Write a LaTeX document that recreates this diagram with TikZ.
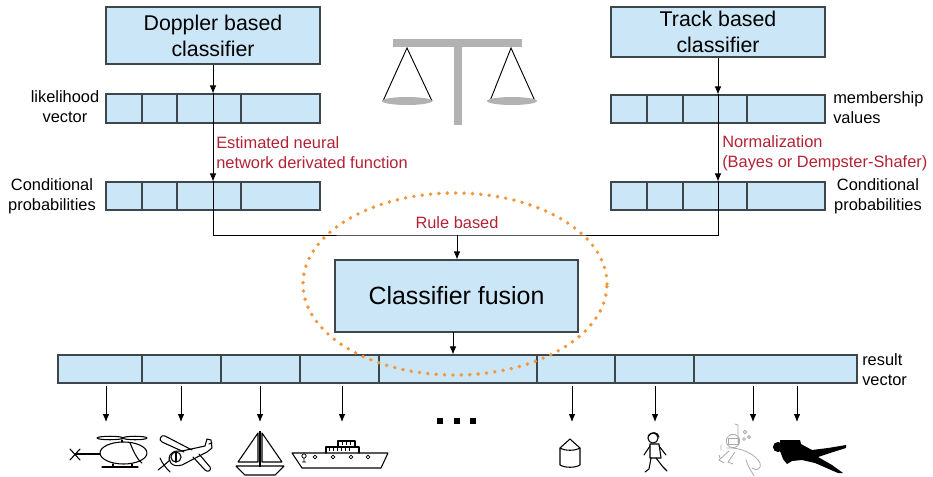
\documentclass[tikz,border=0pt]{standalone}
\usepackage{fontspec}
\setmainfont{Liberation Sans}
\usetikzlibrary{arrows.meta}

\definecolor{boxfill}{RGB}{203,231,247}
\definecolor{boxline}{RGB}{60,70,75}
\definecolor{rulered}{RGB}{178,34,52}
\definecolor{dotorange}{RGB}{245,150,60}
\definecolor{scalegray}{RGB}{178,178,178}
\definecolor{sketchgray}{RGB}{170,170,170}

\tikzset{
  clsbox/.style={draw=boxline, fill=boxfill, line width=0.8pt, align=center,
    inner sep=0pt, font=\fontsize{16}{19.5}\selectfont},
  vecbox/.style={draw=boxline, fill=boxfill, line width=0.8pt, inner sep=0pt},
  cellline/.style={draw=boxline, line width=0.8pt},
  lbl/.style={inner sep=0pt, align=center, font=\fontsize{12.3}{15}\selectfont},
  redlbl/.style={lbl, text=rulered},
  wire/.style={line width=0.7pt},
  arr/.style={-{Latex[length=6pt, width=5pt]}, line width=0.7pt},
  icon/.style={line width=0.8pt, line join=round, line cap=round},
}

\begin{document}
\begin{tikzpicture}[x=0.75pt,y=-0.75pt]
\useasboundingbox (0,0) rectangle (933,476);

% classifiers
\node[clsbox, minimum width=160.5pt, minimum height=42.75pt] (dop) at (213,35.5) {Doppler based\\classifier};
\node[clsbox, minimum width=160.5pt, minimum height=37.5pt] (trk) at (718,32) {Track based\\classifier};

% vectors
\node[vecbox, minimum width=160.5pt, minimum height=21.75pt] (lik) at (213,108.5) {};
\node[vecbox, minimum width=160.5pt, minimum height=21pt] (lcnd) at (213,196) {};
\node[vecbox, minimum width=160.5pt, minimum height=21pt] (mem) at (718,109) {};
\node[vecbox, minimum width=160.5pt, minimum height=21pt] (rcnd) at (718,196) {};

\foreach \r in {lik,lcnd} {
	\foreach \x in {142,177,241}
		\draw[cellline] (\r.north -| \x,0) -- (\r.south -| \x,0);
}
\foreach \r in {mem,rcnd} {
	\foreach \x in {647,683,747}
		\draw[cellline] (\r.north -| \x,0) -- (\r.south -| \x,0);
}

\node[lbl] (likl) at (65,107) {likelihood\\vector};
\node[lbl] (lcndl) at (52,196) {Conditional\\probabilities};
\node[lbl, anchor=west, align=left] (meml) at (833,108) {membership\\values};
\node[lbl] (rcndl) at (878,196) {Conditional\\probabilities};

\node[redlbl, anchor=west, align=left] (nnl) at (216,153) {Estimated neural\\network derivated function};
\node[redlbl, anchor=west, align=left] (norml) at (722,153) {Normalization\\(Bayes or Dempster-Shafer)};

\draw[arr] (dop) -- (lik.north);
\draw[arr] (lik.north) -- (lcnd.north);
\draw[arr] (trk) -- (mem.north);
\draw[arr] (mem.north) -- (rcnd.north);

% fusion
\coordinate (rule) at (457,235);
\draw[wire] (lcnd.north) |- (rule) -| (rcnd.north);
\node[redlbl] (rulel) at (457,223) {Rule based};

\node[clsbox, minimum width=182.25pt, minimum height=54pt, font=\fontsize{18.7}{22}\selectfont] (fus) at (456.5,296) {Classifier fusion};
\draw[arr] (rule) -- (rule |- fus.north);

\node[vecbox, minimum width=599.25pt, minimum height=21pt] (res) at (457.5,369) {};
\foreach \x in {142,221,300,379,537,615,694}
	\draw[cellline] (res.north -| \x,0) -- (res.south -| \x,0);
\node[lbl, anchor=west, align=left] (resl) at (862,370) {result\\vector};

\coordinate (fusout) at (453,332);
\draw[arr] (fusout) -- (fusout |- res.north);

\foreach \x [count=\i] in {106,181,260,342,572,655,753,797} {
	\coordinate (out\i) at (\x,386);
	\coordinate (obj\i) at (\x,422);
	\draw[arr] (out\i) -- (obj\i);
}

% ...
\foreach \x in {440,457,473}
	\fill ({\x-3},418) rectangle ({\x+3},424);

% balance
\fill[scalegray] (393,39) rectangle (522,47);
\fill[scalegray] (454,47) rectangle (462,125);
\draw[line width=0.7pt] (383,101) -- (407,48) -- (432,101);
\draw[line width=0.7pt] (490,101) -- (511,48) -- (535,101);
\fill[scalegray] (407,101) ellipse [x radius=18.75pt, y radius=3pt];
\fill[scalegray] (512,101) ellipse [x radius=18.75pt, y radius=3pt];

% helicopter
\draw[icon] (70,449) -- (80,460) (70,460) -- (80,449);
\draw[icon] (76,454) -- (100,454);
\draw[icon] (123.5,453) ellipse [x radius=17.6pt, y radius=8.25pt];
\draw[icon] (130,443) .. controls (134,452) and (136,458) .. (142,463);
\draw[icon] (110,438) ellipse [x radius=9.75pt, y radius=1.3pt];
\draw[icon] (135,438) ellipse [x radius=9pt, y radius=1.3pt];
\draw[icon] (122,440) -- (122,442);
\draw[icon] (102,467) -- (138,467) (113,464) -- (113,467) (132,464) -- (132,467);

% airplane
\draw[icon] (170,455) .. controls (174,451) .. (182,451) -- (205,446) -- (207,439) -- (211,440) -- (212,448)
	-- (207,452) -- (182,465) .. controls (172,468) and (167,461) .. (170,455) -- cycle;
\draw[icon] (184,452) -- (162,442) .. controls (158,440) and (161,434) .. (165,436) -- (192,450);
\draw[icon] (193,457) -- (205,470) .. controls (208,473) and (212,470) .. (210,467) -- (199,454);
\draw[icon] (176,457) circle [radius=3.8pt];
\draw[icon] (176,452) -- (176,462);
\draw[icon] (160,458) .. controls (162,463) and (166,468) .. (170,472) (158,470) .. controls (162,467) .. (170,460);
\draw[icon] (209,444) -- (212,443);

% sailboat
\draw[icon] (258,433) -- (258,462) -- (238,462) -- cycle;
\draw[icon] (262,433) -- (262,462) -- (282,462) -- cycle;
\fill (259,431) rectangle (261,467);
\draw[icon] (236,466) -- (284,466) -- (275,475) -- (245,475) -- cycle;

% ship
\draw[icon] (292,453) -- (388,453) -- (381,468) -- (302,468) -- cycle;
\draw[icon] (326,453) -- (326,447) -- (359,447) -- (359,453);
\draw[icon] (338,447) -- (338,441) -- (355,441) -- (355,447);
\foreach \x in {329,333,337,341,345,349}
	\draw[line width=0.5pt] (\x,448) -- (\x,451);
\foreach \x in {342,346,350}
	\draw[line width=0.5pt] (\x,442) -- (\x,445);
\foreach \x in {315,333,351,368}
	\draw[line width=0.6pt] (\x,457) circle [radius=1.4pt];
\draw[line width=0.6pt] (304,456) circle [radius=1.6pt] (304,458) -- (304,462) (302,462) -- (306,462);

% silo
\draw[icon] (560,448) -- (570,439) -- (580,448) -- (580,465) .. controls (575,468) and (565,468) .. (560,465) -- cycle;
\draw[icon] (560,448) .. controls (565,451) and (575,451) .. (580,448);

% walker
\draw[icon] (653,438) circle [radius=3.8pt];
\draw[icon] (648,436) .. controls (652,431) and (658,432) .. (659,437);
\draw[icon] (650,444) -- (659,444) -- (661,458) -- (650,458) -- cycle;
\draw[icon] (650,446) -- (644,455) (659,446) -- (666,455);
\draw[icon] (651,458) -- (649,469) -- (645,472) (656,458) -- (663,467) -- (667,471);

% snorkeler
\begin{scope}[draw=sketchgray, line width=0.6pt, line cap=round]
\draw (733,441) circle [radius=5pt];
\draw (728,438) rectangle (738,444);
\draw (738,443) -- (738,425) -- (735,424);
\draw (745,432) circle [radius=1.3pt] (749,437) circle [radius=1.1pt] (744,439) circle [radius=1pt];
\draw (727,448) .. controls (742,447) and (756,455) .. (760,463) .. controls (762,468) and (757,472) .. (752,468);
\draw (729,451) -- (719,460) -- (724,463);
\draw (735,452) -- (728,462) -- (733,464);
\draw (746,460) .. controls (748,467) and (752,472) .. (754,476);
\draw (721,445) -- (721,450) (719,455) -- (720,458);
\end{scope}

% diver
\fill (778,447) circle [radius=3.8pt];
\fill (780,440) -- (800,440) -- (801,444) -- (812,450) -- (828,448) -- (846,445) -- (846,448) -- (830,453)
	-- (818,457) -- (832,465) -- (843,473) -- (838,473) -- (815,463) -- (802,460) -- (792,461) -- (787,464)
	-- (783,459) -- (780,451) -- cycle;

% fusion area
\draw[dotorange, line width=2.9pt, line cap=round, dash pattern=on 0pt off 6.3pt]
	(455,284) ellipse [x radius=114pt, y radius=68.25pt];
\end{tikzpicture}
\end{document}
